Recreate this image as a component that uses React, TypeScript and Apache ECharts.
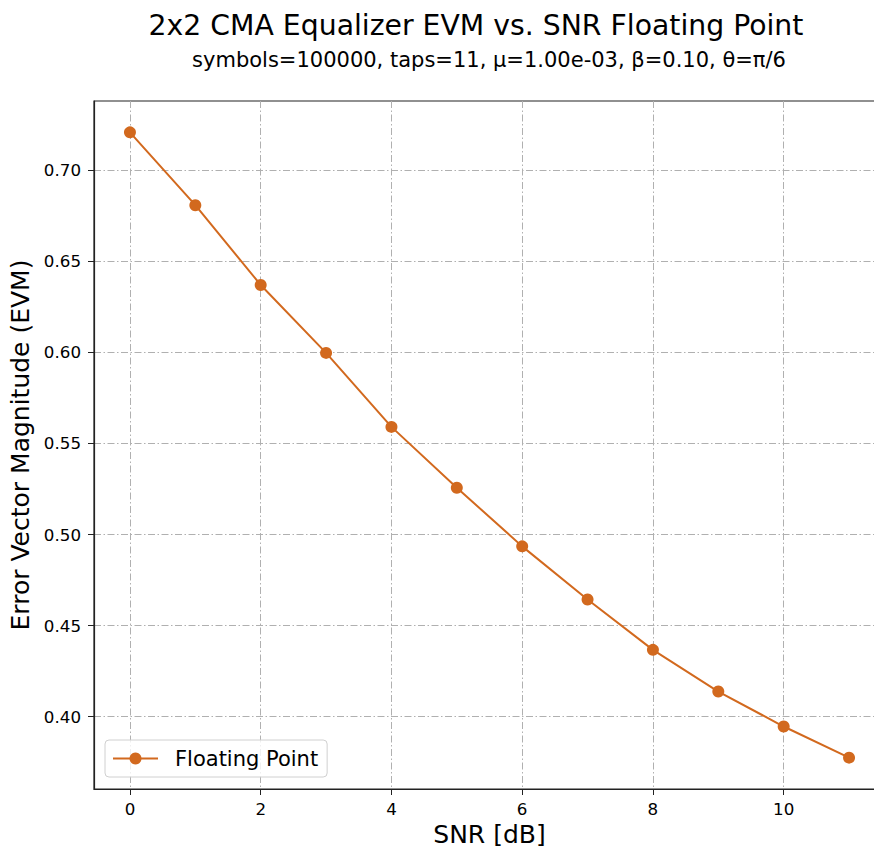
import React, { useEffect, useRef } from "react";
import * as echarts from "echarts";

const snrDb = [0, 1, 2, 3, 4, 5, 6, 7, 8, 9, 10, 11];
const evmFloating = [0.7208, 0.6808, 0.637, 0.5997, 0.5591, 0.5257, 0.4935, 0.4643, 0.4367, 0.4138, 0.3946, 0.3775];
const xTicks = [0, 2, 4, 6, 8, 10];
const yTicks = [0.4, 0.45, 0.5, 0.55, 0.6, 0.65, 0.7];

const FONT = "DejaVu Sans";
const COLOR = "#D2691E";

export default function App() {
  const ref = useRef<HTMLDivElement>(null);
  useEffect(() => {
    if (!ref.current) return;
    const chart = echarts.init(ref.current, null, { renderer: "svg" });
    const gridLine = {
      show: true,
      lineStyle: { color: "#b0b0b0", width: 1, type: [7, 2.5, 1.5, 2.5] as any },
    };
    chart.setOption({
      animation: false,
      backgroundColor: "#ffffff",
      textStyle: { fontFamily: FONT },
      title: [
        {
          text: "2x2 CMA Equalizer EVM vs. SNR Floating Point",
          left: 471,
          top: 6,
          textAlign: "center",
          textStyle: { fontFamily: FONT, fontSize: 28.3, fontWeight: "normal", color: "#000" },
        },
        {
          text: "symbols=100000, taps=11, \u03bc=1.00e-03, \u03b2=0.10, \u03b8=\u03c0/6",
          left: 484,
          top: 44,
          textAlign: "center",
          textStyle: { fontFamily: FONT, fontSize: 21, fontWeight: "normal", color: "#000" },
        },
      ],
      grid: {
        left: 94,
        top: 101,
        width: 791,
        bottom: 61,
        show: true,
        borderColor: "#222",
        borderWidth: 1.2,
        backgroundColor: "#fff",
        containLabel: false,
        outerBoundsMode: "none",
      },
      legend: {
        left: 105,
        top: 740,
        orient: "horizontal",
        padding: [8, 9, 8, 7],
        itemWidth: 45,
        itemHeight: 15,
        borderColor: "#d0d0d0",
        borderWidth: 1,
        borderRadius: 4,
        backgroundColor: "rgba(255,255,255,0.8)",
        textStyle: { fontFamily: FONT, fontSize: 21, color: "#000", padding: [0, 0, 0, 12] },
        data: ["Floating Point"],
      },
      xAxis: {
        type: "value",
        min: -0.55,
        max: 11.55,
        name: "SNR [dB]",
        nameLocation: "middle",
        nameGap: 31,
        nameTextStyle: { fontFamily: FONT, fontSize: 25, color: "#000" },
        axisLine: { show: true, onZero: false, lineStyle: { color: "#222", width: 1.2 } },
        axisTick: { show: true, inside: false, length: 6, customValues: xTicks, lineStyle: { color: "#222" } },
        axisLabel: {
          show: true,
          customValues: xTicks,
          margin: 11,
          fontFamily: FONT,
          fontSize: 16.7,
          color: "#000",
          formatter: (v: number) => String(v),
        },
        splitLine: gridLine,
      },
      yAxis: {
        type: "value",
        min: 0.3603,
        max: 0.738,
        name: "Error Vector Magnitude (EVM)",
        nameLocation: "middle",
        nameGap: 59,
        nameTextStyle: { fontFamily: FONT, fontSize: 25, color: "#000" },
        axisLine: { show: true, onZero: false, lineStyle: { color: "#222", width: 1.2 } },
        axisTick: { show: true, inside: false, length: 6, customValues: yTicks, lineStyle: { color: "#222" } },
        axisLabel: {
          show: true,
          customValues: yTicks,
          margin: 13,
          fontFamily: FONT,
          fontSize: 16.7,
          color: "#000",
          formatter: (v: number) => v.toFixed(2),
        },
        splitLine: gridLine,
      },
      series: [
        {
          name: "Floating Point",
          type: "line",
          data: snrDb.map((x, i) => [x, evmFloating[i]]),
          symbol: "circle",
          symbolSize: 12,
          showSymbol: true,
          itemStyle: { color: COLOR },
          lineStyle: { color: COLOR, width: 2 },
          emphasis: { disabled: true },
        },
      ],
    });
    return () => chart.dispose();
  }, []);
  return (
    <div
      ref={ref}
      style={{ position: "fixed", left: 0, top: 0, width: 874, height: 850, background: "#fff" }}
    />
  );
}
